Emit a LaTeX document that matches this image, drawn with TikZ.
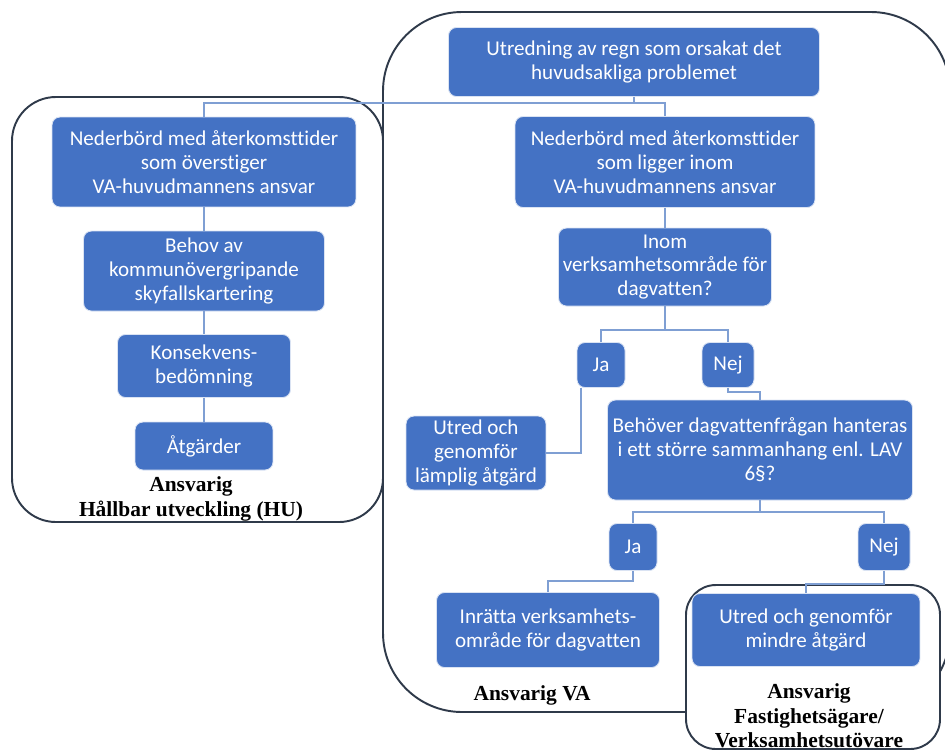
\documentclass[tikz,border=0pt]{standalone}
\usepackage{fontspec}
\setmainfont{Carlito}[Ligatures=NoCommon]
\newfontfamily\skserif{Liberation Serif}
\usetikzlibrary{positioning}
\definecolor{skblue}{HTML}{4472C4}
\definecolor{sklink}{HTML}{7F9FD3}
\definecolor{skframe}{HTML}{2F3A4A}
\tikzset{
  sk box/.style={draw=white!80!skblue, line width=0.5pt, rounded corners=4.5pt, fill=skblue,
    text=white, align=center, inner sep=0pt, font={\fontsize{12}{13.6}\selectfont}},
  sk link/.style={draw=sklink, line width=0.8pt},
  sk group/.style={draw=skframe, line width=1.1pt},
  sk label/.style={font={\skserif\bfseries\fontsize{12.2}{14}\selectfont}, text=black, align=center}
}

\begin{document}
\begin{tikzpicture}[x=0.02cm, y=-0.02cm]
  \useasboundingbox (0,0) rectangle (945,751);
  % responsibility frames
  \draw[sk group, rounded corners=45pt] (383,12) rectangle (950,712);
  \draw[sk group, rounded corners=25pt] (12,97) rectangle (383,522);
  \draw[sk group, fill=white, rounded corners=17pt] (686,585) rectangle (940,749);

  % boxes
  \node[sk box, minimum width=7.42cm, minimum height=1.38cm] (utr) at (634,62) {Utredning av regn som orsakat det\\huvudsakliga problemet};
  \node[sk box, minimum width=6.08cm, minimum height=1.8cm] (hu1) at (204,162) {Nederbörd med återkomsttider\\som överstiger\\VA-huvudmannens ansvar};
  \node[sk box, minimum width=4.82cm, minimum height=1.6cm] (hu2) at (204,271) {Behov av\\kommunövergripande\\skyfallskartering};
  \node[sk box, minimum width=3.46cm, minimum height=1.26cm] (hu3) at (204,366) {Konsekvens-\\bedömning};
  \node[sk box, minimum width=2.76cm, minimum height=0.96cm] (hu4) at (204,446) {Åtgärder};
  \node[sk box, minimum width=6.0cm, minimum height=1.82cm] (va1) at (665,162) {Nederbörd med återkomsttider\\som ligger inom\\VA-huvudmannens ansvar};
  \node[sk box, minimum width=4.26cm, minimum height=1.56cm] (inom) at (665,267) {Inom\\verksamhetsområde för\\dagvatten?};
  \node[sk box, minimum width=0.96cm, minimum height=0.9cm] (ja1) at (601,365) {Ja};
  \node[sk box, minimum width=1.04cm, minimum height=0.9cm] (nej1) at (728,365) {Nej};
  \node[sk box, minimum width=2.8cm, minimum height=1.48cm] (lamp) at (476,453) {Utred och\\genomför\\lämplig åtgärd};
  \node[sk box, minimum width=6.1cm, minimum height=2.0cm] (beh) at (760,450) {Behöver dagvattenfrågan hanteras\\i ett större sammanhang enl. LAV\\6§?};
  \node[sk box, minimum width=0.96cm, minimum height=0.94cm] (ja2) at (633,547) {Ja};
  \node[sk box, minimum width=1.04cm, minimum height=0.94cm] (nej2) at (884,547) {Nej};
  \node[sk box, minimum width=4.46cm, minimum height=1.5cm] (inr) at (548,630) {Inrätta verksamhets-\\område för dagvatten};
  \node[sk box, minimum width=4.56cm, minimum height=1.46cm] (mindre) at (806,630) {Utred och genomför\\mindre åtgärd};

  % labels
  \node[sk label] (hulab) at (191,499) {Ansvarig\\Hållbar utveckling (HU)};
  \node[sk label] (valab) at (532,695) {Ansvarig VA};
  \node[sk label] (felab) at (809,716) {Ansvarig\\Fastighetsägare/\\Verksamhetsutövare};

  % connectors
  \coordinate (top split) at (634,103);
  \draw[sk link] (utr.south) -- (top split);
  \draw[sk link] (hu1.north) |- (top split) -| (va1.north);
  \foreach \a/\b in {hu1/hu2,hu2/hu3,hu3/hu4} {\draw[sk link] (\a) -- (\b);}
  \draw[sk link] (va1) -- (inom);
  \coordinate (inom split) at (665,330);
  \draw[sk link] (inom.south) -- (inom split);
  \draw[sk link] (ja1.north) |- (inom split) -| (nej1.north);
  \draw[sk link] ([xshift=-0.4cm]ja1.south) |- (lamp.east);
  \draw[sk link] (nej1.south) -- ++(0,4) -| (beh.north);
  \coordinate (beh split) at (760,512);
  \draw[sk link] (beh.south) -- (beh split);
  \draw[sk link] (ja2.north) |- (beh split) -| (nej2.north);
  \draw[sk link] (ja2.south) -- ++(0,10) -| (inr.north);
  \draw[sk link] (nej2.south) -- ++(0,13) -| (mindre.north);
\end{tikzpicture}
\end{document}
